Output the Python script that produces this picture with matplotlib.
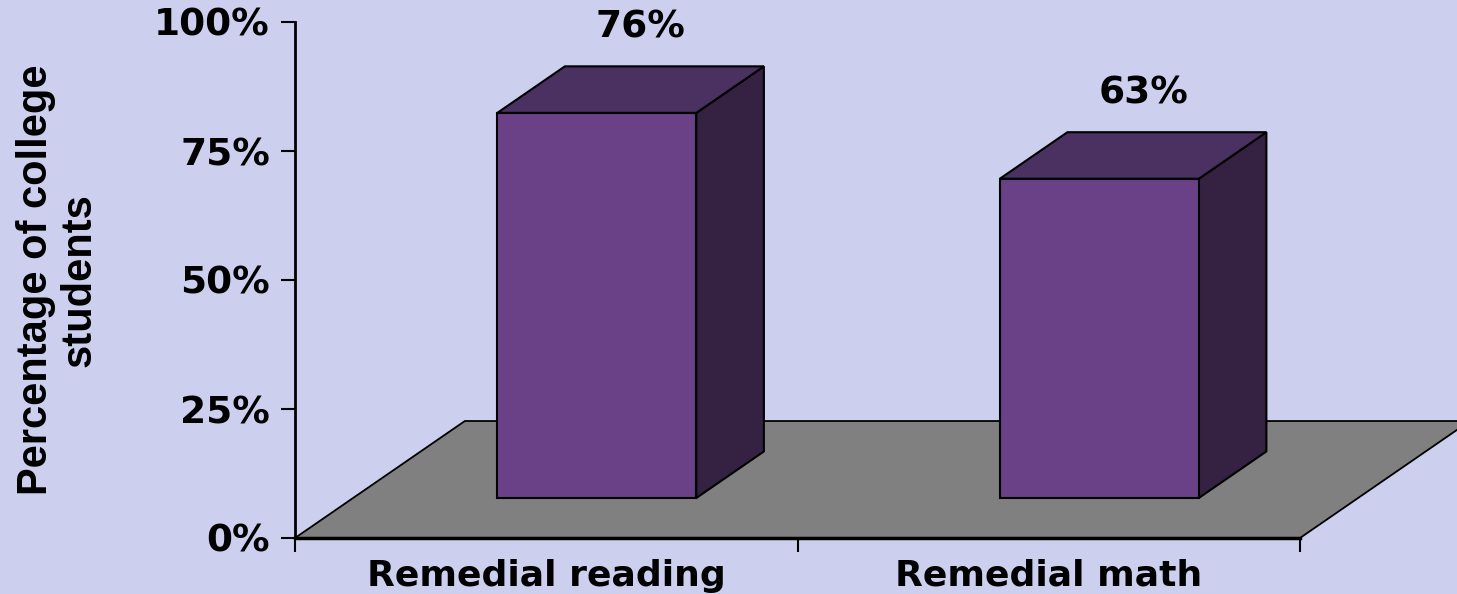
import matplotlib
matplotlib.use("Agg")
import matplotlib.pyplot as plt
from matplotlib.patches import Polygon

# datos del grafico
categorias = ["Remedial reading", "Remedial math"]
valores = [76, 63]
etiquetas = ["76%", "63%"]
ticks_y = [0, 25, 50, 75, 100]
ticks_y_txt = ["0%", "25%", "50%", "75%", "100%"]

fondo = "#CCD0EE"
c_frente = "#6A4187"
c_arriba = "#4B3162"
c_lado = "#352243"
c_suelo = "#808080"

# proyeccion 3D sencilla (profundidad -> desplazamiento)
DX = 0.338   # unidades x por profundidad
DY = 22.67   # % por profundidad
K = 0.982    # escala de altura
z0, z1 = 0.342, 0.74
x_off, ancho = 0.287, 0.396


def p(x, z, h):
    return (x + z * DX, z * DY + h * K)


fig = plt.figure(figsize=(14.57, 5.94), dpi=100, facecolor=fondo)
ax = fig.add_axes([295 / 1457, 56 / 594, 1005 / 1457, 516 / 594])
ax.set_facecolor(fondo)
ax.patch.set_alpha(0)
ax.set_xlim(0, 2)
ax.set_ylim(0, 100)

# suelo
suelo = Polygon([p(0, 0, 0), p(2, 0, 0), p(2, 1, 0), p(0, 1, 0)], closed=True,
                facecolor=c_suelo, edgecolor="black", lw=1.3, clip_on=False, zorder=1)
ax.add_patch(suelo)

# barras
for i, v in enumerate(valores):
    xa = i + x_off
    xb = xa + ancho
    frente = [p(xa, z0, 0), p(xb, z0, 0), p(xb, z0, v), p(xa, z0, v)]
    lado = [p(xb, z0, 0), p(xb, z1, 0), p(xb, z1, v), p(xb, z0, v)]
    arriba = [p(xa, z0, v), p(xb, z0, v), p(xb, z1, v), p(xa, z1, v)]
    for pts, col in [(lado, c_lado), (arriba, c_arriba), (frente, c_frente)]:
        ax.add_patch(Polygon(pts, closed=True, facecolor=col, edgecolor="black",
                             lw=1.5, clip_on=False, zorder=2))
    cx, cy = p(xa + ancho / 2, (z0 + z1) / 2, v)
    ax.annotate(etiquetas[i], (cx, cy), xytext=(10, 62), textcoords="offset pixels",
                ha="center", va="center", fontsize=27, fontweight="bold",
                family="DejaVu Sans", annotation_clip=False)

# ejes
for s in ["top", "right"]:
    ax.spines[s].set_visible(False)
ax.spines["left"].set_linewidth(2)
ax.spines["bottom"].set_linewidth(2.5)
ax.spines["left"].set_zorder(5)
ax.spines["bottom"].set_zorder(5)

ax.set_yticks(ticks_y)
ax.set_yticklabels(ticks_y_txt, fontsize=27, fontweight="bold", family="DejaVu Sans")
ax.tick_params(axis="y", length=10, width=1.5, pad=8)

ax.set_xticks([0, 1, 2])
ax.set_xticklabels([])
ax.set_xticks([0.5, 1.5], minor=True)
ax.set_xticklabels(categorias, minor=True, fontsize=26, fontweight="bold", family="DejaVu Sans")
ax.tick_params(axis="x", which="major", length=10, width=1.5)
ax.tick_params(axis="x", which="minor", length=0, pad=15)

fig.text(58 / 1457, (594 - 280) / 594, "Percentage of college\nstudents", rotation=90,
         ha="center", va="center", multialignment="center", fontsize=30,
         fontweight="bold", family="Liberation Sans", linespacing=1.1)

plt.savefig("out.png", dpi=100, facecolor=fondo)
